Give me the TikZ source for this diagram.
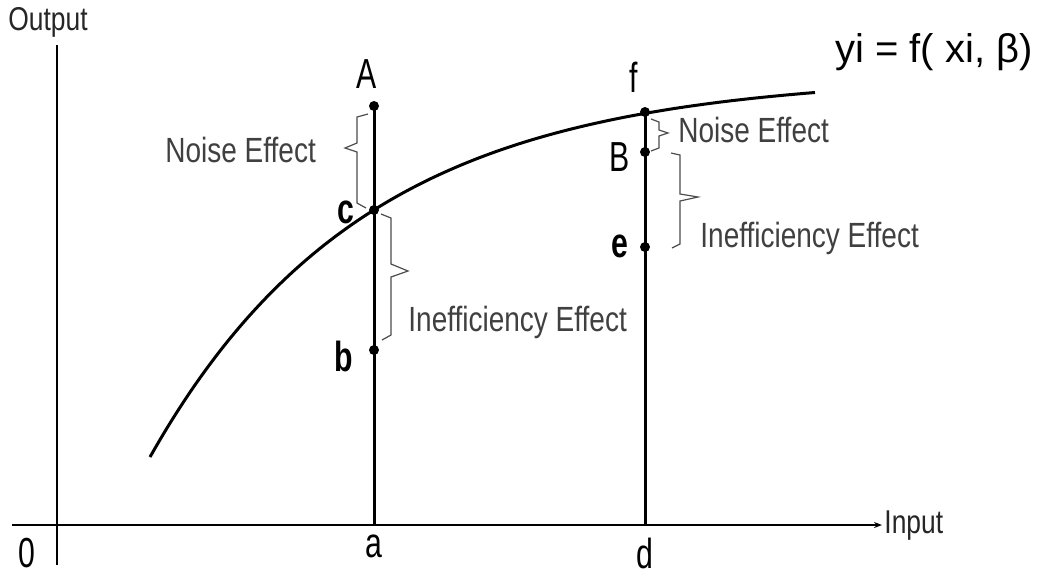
\documentclass[tikz,border=0pt]{standalone}
\usepackage{fontspec}
\setmainfont{Liberation Sans}
\newfontfamily\cf{Liberation Sans}[FakeStretch=0.72]
\newfontfamily\ef{Liberation Sans}[FakeStretch=0.8]
\newfontfamily\wf{Liberation Sans}
\usetikzlibrary{arrows.meta}
\begin{document}
\begin{tikzpicture}[x=0.5pt,y=-0.5pt,
  axis/.style={line width=1.4pt,black},
  vline/.style={line width=1.5pt,black},
  dotc/.style={circle,fill=black,inner sep=0pt,minimum size=5pt},
  lbl/.style={font=\cf\fontsize{21}{21}\selectfont,inner sep=0pt},
  blbl/.style={font=\cf\bfseries\fontsize{21}{21}\selectfont,inner sep=0pt},
  axl/.style={font=\ef\fontsize{16.5}{16.5}\selectfont,text=black!85,inner sep=0pt},
  eff/.style={font=\ef\fontsize{17.5}{17.5}\selectfont,text=black!75,inner sep=0pt},
  brc/.style={line width=0.6pt,black!70}]
\useasboundingbox (0,0) rectangle (1044,575);
% axes
\coordinate (ytop) at (57,45);
\coordinate (ybot) at (57,565);
\coordinate (xl) at (12,525);
\coordinate (xr) at (882,525);
\draw[axis] (ytop) -- (ybot);
\draw[axis,-{Stealth[length=4pt,width=3pt]}] (xl) -- (xr);
\node[axl,anchor=west] (output) at (8,22) {Output};
\node[axl,anchor=west] (input) at (884,526) {Input};
\node[lbl] (zero) at (27,553) {0};
\node[lbl] (la) at (374,546) {a};
\node[lbl] (ld) at (645,553) {d};
% points
\node[dotc] (A) at (374,106) {};
\node[dotc] (c) at (374,210) {};
\node[dotc] (b) at (374,350) {};
\node[dotc] (f) at (645,112) {};
\node[dotc] (B) at (645,152) {};
\node[dotc] (e) at (645,247) {};
\coordinate (aa) at (374,525);
\coordinate (dd) at (645,525);
\draw[vline] (A.center) -- (aa);
\draw[vline] (f.center) -- (dd);
% frontier curve
\draw[line width=1.5pt] plot[domain=150:815,samples=120] (\x,{75.2+381.8*exp(-(\x-150)/215)});
% point labels
\node[lbl] (lA) at (367,74) {A};
\node[lbl] (lf) at (634,77) {f};
\node[blbl] (lc) at (346,212) {c};
\node[blbl] (lb) at (344,356) {b};
\node[lbl] (lB) at (620,157) {B};
\node[blbl] (le) at (620,246) {e};
\node[font=\wf\fontsize{20}{20}\selectfont,inner sep=0pt,anchor=west] (eq) at (835,52) {yi = f( xi, β)};
% effects
\node[eff,anchor=west] (n1) at (165,150) {Noise Effect};
\node[eff,anchor=west] (i1) at (408,322) {Inefficiency Effect};
\node[eff,anchor=west] (n2) at (678,130) {Noise Effect};
\node[eff,anchor=west] (i2) at (700,238) {Inefficiency Effect};
% braces
\draw[brc] (368,114) -- (357,117) -- (357,143) -- (345,148) -- (357,152) -- (357,203) -- (366,208);
\draw[brc] (381,214) -- (391,218) -- (391,264) -- (408,271) -- (391,277) -- (391,335) -- (382,340);
\draw[brc] (651,119) -- (659,122) -- (659,130) -- (668,133) -- (659,136) -- (659,148) -- (651,151);
\draw[brc] (671,153) -- (680,155) -- (680,194) -- (698,197) -- (680,201) -- (680,244) -- (672,248);
\end{tikzpicture}
\end{document}
